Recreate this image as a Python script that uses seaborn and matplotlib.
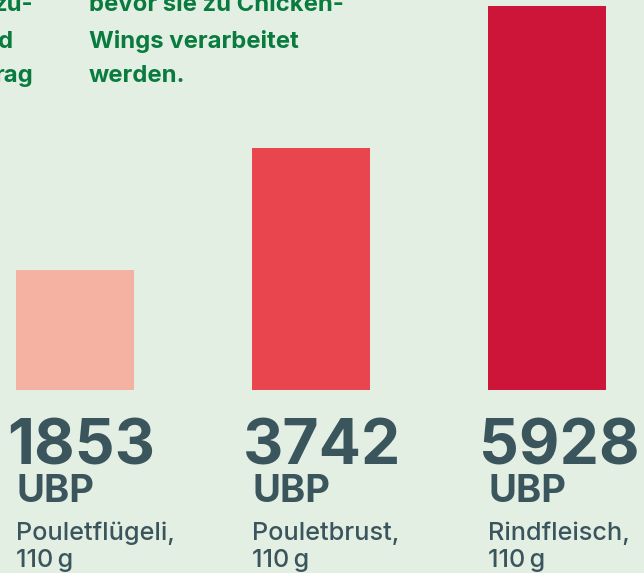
import matplotlib.pyplot as plt
import seaborn as sns
import pandas as pd

# values
categories = ['Pouletflügeli', 'Pouletbrust', 'Rindfleisch']
ubp_values = [1853, 3742, 5928]
label_line1 = ['Pouletflügeli,', 'Pouletbrust,', 'Rindfleisch,']
label_line2 = ['110\u2009g', '110\u2009g', '110\u2009g']
bar_colors = ['#F5B2A2', '#E8454F', '#CC1539']

# text lines above the chart (cut off at the edges in the original)
left_fragments = ['zu-', 'd', 'rag']
intro_lines = ['bevor sie zu Chicken-', 'Wings verarbeitet', 'werden.']

bg = '#E4EFE4'
dark = '#3B555D'
green = '#0A7B3F'

sns.set_theme(style='white')
plt.rcParams['font.family'] = ['Inter', 'DejaVu Sans']

df = pd.DataFrame({'cat': categories, 'ubp': ubp_values})

fig = plt.figure(figsize=(6.44, 5.73), dpi=100)
fig.patch.set_facecolor(bg)
ax = fig.add_axes([0, 183 / 573, 1, 390 / 573])
ax.set_facecolor(bg)

sns.barplot(data=df, x='cat', y='ubp', hue='cat', palette=bar_colors,
            width=0.5, legend=False, ax=ax, saturation=1, linewidth=0)

ax.set_xlim(-0.316, 2.413)
ax.set_ylim(0, max(ubp_values) * 1.016)
ax.axis('off')

for i, v in enumerate(ubp_values):
    x0 = i - 0.25
    ax.annotate(f'{v}', xy=(x0, 0), xytext=(-6, -53.5), textcoords='offset points',
                fontsize=45, fontweight='bold', color=dark, va='baseline', ha='left')
    ax.annotate('UBP', xy=(x0, 0), xytext=(1, -80.5), textcoords='offset points',
                fontsize=27.5, fontweight='bold', color=dark, va='baseline', ha='left')
    ax.annotate(label_line1[i], xy=(x0, 0), xytext=(0.5, -108), textcoords='offset points',
                fontsize=18.2, fontweight='medium', color=dark, va='baseline', ha='left')
    ax.annotate(label_line2[i], xy=(x0, 0), xytext=(0.5, -127.5), textcoords='offset points',
                fontsize=18.2, fontweight='medium', color=dark, va='baseline', ha='left')

baselines = [11, 48, 82]
frag_right = [33, 13, 33]
for frag, line, yb, xr in zip(left_fragments, intro_lines, baselines, frag_right):
    fig.text(xr / 644, 1 - yb / 573, frag, fontsize=17.2, fontweight='bold',
             color=green, va='baseline', ha='right')
    fig.text(89 / 644, 1 - yb / 573, line, fontsize=17.2, fontweight='bold',
             color=green, va='baseline', ha='left')

fig.savefig('out.png', dpi=100, facecolor=bg)
